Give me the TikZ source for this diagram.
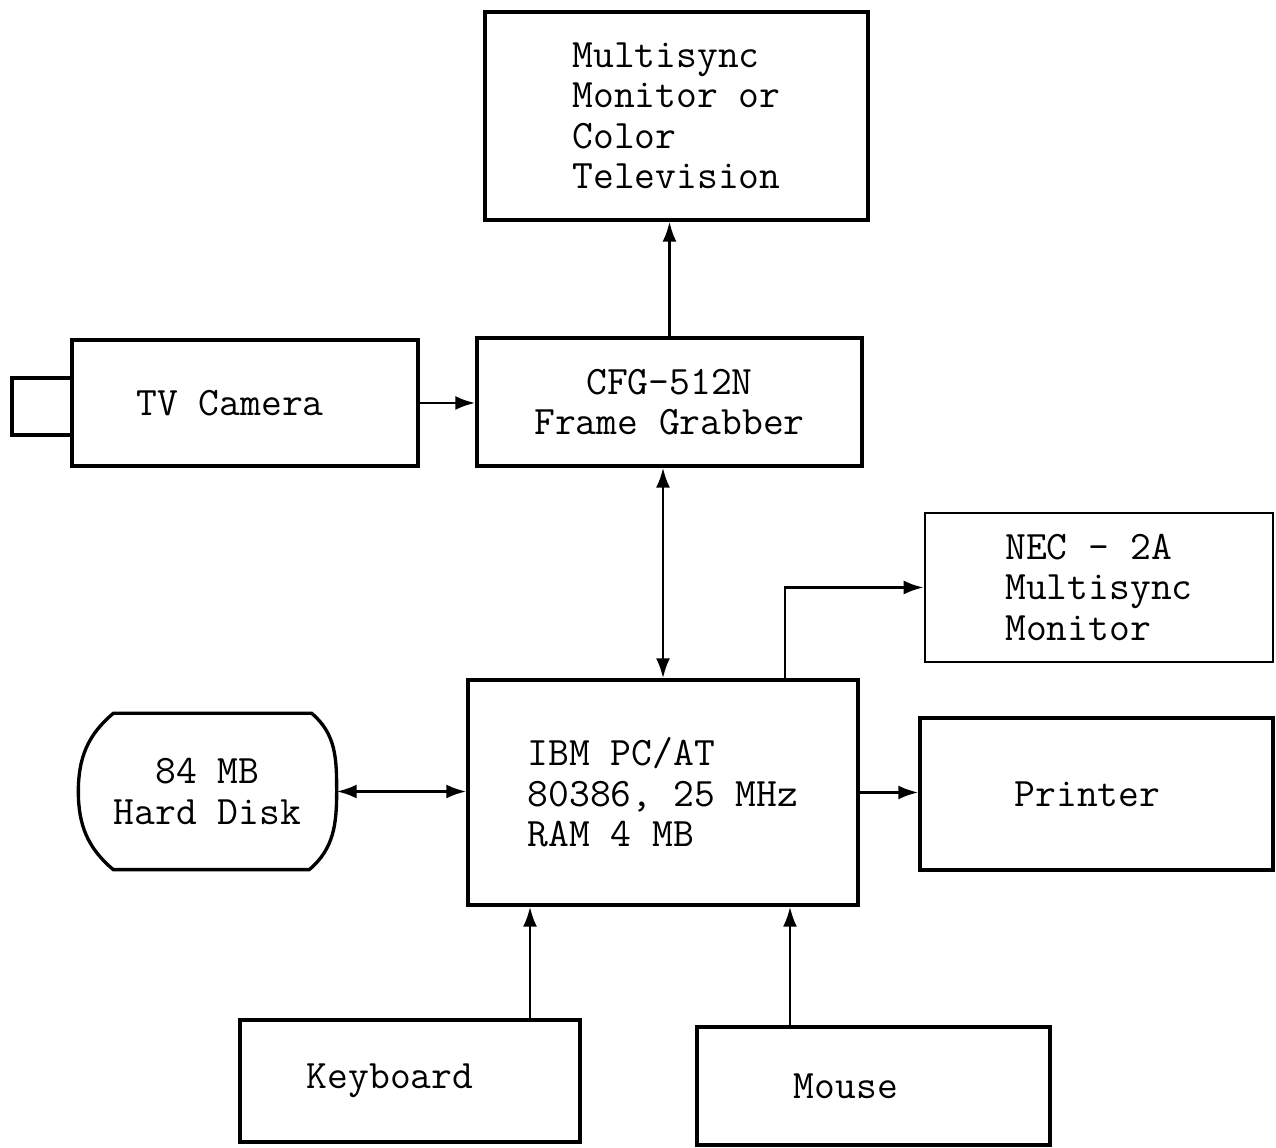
\documentclass[tikz,border=0pt]{standalone}
\usepackage{tikz}
\usetikzlibrary{arrows.meta,calc}

\begin{document}
\begin{tikzpicture}[
    box/.style={rectangle, draw=black, line width=1.9pt, align=center, inner sep=0pt, font=\ttfamily\fontsize{23}{23}\selectfont},
    boxl/.style={box, align=left},
    arr/.style={-{Latex[length=4mm,width=2.8mm]}, line width=1.6pt},
    darr/.style={{Latex[length=4mm,width=2.8mm]}-{Latex[length=4mm,width=2.8mm]}, line width=1.6pt}
]
    \useasboundingbox (0,0) rectangle (25.52,22.96);

    \node [boxl, minimum width=7.66cm, minimum height=4.16cm] (mon) at (13.53,20.64) {Multisync\\Monitor or\\Color\\Television};
    \node [box, minimum width=7.7cm, minimum height=2.56cm] (fg) at (13.39,14.92) {CFG-512N\\Frame Grabber};
    \node [box, minimum width=6.92cm, minimum height=2.52cm] (cam) at (4.9,14.9) {TV Camera\hspace*{0.6cm}};
    \node [box, minimum width=1.2cm, minimum height=1.14cm] (lens) at (0.84,14.83) {};
    \node [boxl, line width=1.5pt, minimum width=6.96cm, minimum height=2.98cm] (nec) at (21.98,11.21) {NEC - 2A\\Multisync\\Monitor};
    \node [boxl, minimum width=7.8cm, minimum height=4.5cm] (ibm) at (13.26,7.11) {IBM PC/AT\\80386, 25 MHz\\RAM 4 MB};
    \node [box, draw=none, minimum width=5.1cm, minimum height=3.06cm] (disk) at (4.15,7.13) {84 MB\\Hard Disk};
    \node [box, minimum width=7.06cm, minimum height=3.04cm] (prn) at (21.93,7.08) {Printer\hspace*{0.36cm}};
    \node [box, minimum width=6.8cm, minimum height=2.44cm] (kbd) at (8.2,1.34) {Keyboard\hspace*{0.8cm}};
    \node [box, minimum width=7.06cm, minimum height=2.36cm] (mouse) at (17.47,1.24) {Mouse\hspace*{1.1cm}};

    % disk outline
    \draw [line width=1.9pt]
        ([xshift=0.7cm]disk.north west) -- ([xshift=-0.5cm]disk.north east)
        to[out=-40,in=90] (disk.east) to[out=-90,in=40] ([xshift=-0.55cm]disk.south east)
        -- ([xshift=0.7cm]disk.south west)
        to[out=140,in=-90] (disk.west) to[out=90,in=-140] cycle;

    \draw [arr] (fg.north) -- (fg.north |- mon.south);
    \draw [arr] (cam.east) -- (cam.east -| fg.west);
    \draw [darr] (ibm.north) -- (ibm.north |- fg.south);
    \draw [arr] ([xshift=2.44cm]ibm.north) |- (nec.west);
    \draw [darr] (disk.east) -- (disk.east -| ibm.west);
    \draw [arr] (ibm.east) -- (ibm.east -| prn.west);
    \draw [arr] ([xshift=2.4cm]kbd.north) -- ([xshift=2.4cm]kbd.north |- ibm.south);
    \draw [arr] ([xshift=-1.67cm]mouse.north) -- ([xshift=-1.67cm]mouse.north |- ibm.south);
\end{tikzpicture}
\end{document}
